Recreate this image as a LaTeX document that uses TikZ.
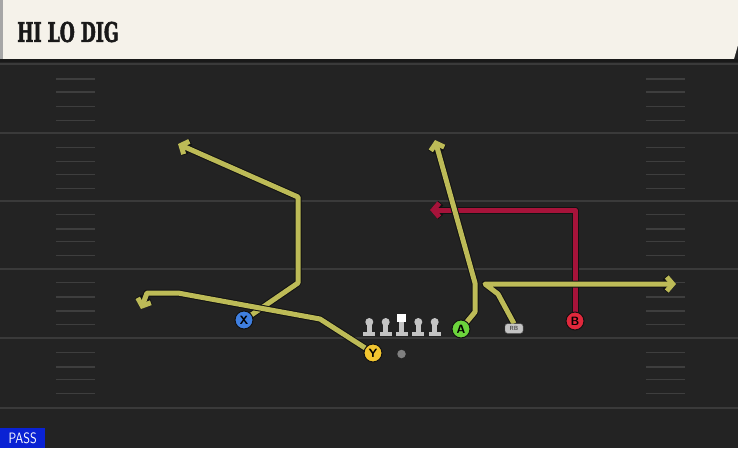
\documentclass[tikz,border=0pt]{standalone}
\usepackage{fontspec}
\newfontfamily\hdrfont{DejaVu Serif}[FakeBold=2.5]
\usetikzlibrary{arrows.meta}
\definecolor{field}{HTML}{232323}
\definecolor{yardc}{HTML}{3A3A3A}
\definecolor{hashc}{HTML}{3E3E3E}
\definecolor{cream}{HTML}{F5F2EA}
\definecolor{routey}{HTML}{BDBB57}
\definecolor{router}{HTML}{A6133A}
\definecolor{outl}{HTML}{121212}
\definecolor{px}{HTML}{3F7FE0}
\definecolor{py}{HTML}{F2C530}
\definecolor{pa}{HTML}{6CD43C}
\definecolor{pb}{HTML}{E0283C}
\definecolor{lmc}{HTML}{C4C4C4}
\definecolor{passblue}{HTML}{0A22D4}
\pgfdeclarelayer{bg}
\pgfsetlayers{bg,main}
\begin{document}
\begin{tikzpicture}[x=1pt,y=-1pt,
  yard/.style={draw=yardc,line width=1.8pt},
  hashm/.style={draw=hashc,line width=1.5pt},
  routeout/.style={draw=outl,line width=7pt,line join=round,-{Straight Barb[length=6pt,width=14pt]}},
  yroute/.style={draw=routey,line width=5pt,line join=round,-{Straight Barb[length=6pt,width=14pt]}},
  rroute/.style={draw=router,line width=5pt,line join=round,-{Straight Barb[length=6pt,width=14pt]}},
  player/.style={circle,minimum size=18pt,inner sep=0pt,draw=outl,line width=1pt,
    font=\sffamily\bfseries\fontsize{12}{12}\selectfont,text=black},
  lineman/.pic={
    \fill[lmc] (0,-14) circle (4);
    \fill[lmc] (-2.3,-14) rectangle (2.3,-4);
    \fill[lmc] (-6,-4) rectangle (6,0);
  },
  centerman/.pic={
    \fill[white] (-4.5,-22) rectangle (4.5,-14);
    \fill[lmc] (-2.3,-14) rectangle (2.3,-4);
    \fill[lmc] (-6,-4) rectangle (6,0);
  }]
\useasboundingbox (0,0) rectangle (738,448);
\begin{pgfonlayer}{bg}
\fill[field] (0,0) rectangle (738,448);
% header
\fill[cream] (0,0) -- (738,0) -- (738,45) -- (734,59) -- (0,59) -- cycle;
\fill[black!35] (0,0) rectangle (3,59);
\fill[black!90] (0,59) rectangle (738,62);
% yard lines
\foreach \yy in {64,133,201,269,338,408}
  \draw[yard] (0,\yy) -- (738,\yy);
% hash marks
\foreach \yy in {79,92,106.5,120.5,147.5,161.5,174.5,188.5,214.5,229,241.5,255.5,282.5,297,311,324.5,352.5,367,379.5,393.5}
  {\draw[hashm] (56,\yy) -- (95,\yy); \draw[hashm] (646,\yy) -- (685,\yy);}
\end{pgfonlayer}

\node[font=\hdrfont\bfseries\fontsize{27}{27}\selectfont,anchor=west,inner sep=0pt,text=black!90]
  (title) at (17,32) {\scalebox{0.64}[1]{HI LO DIG}};

% players
\node[player,fill=px] (X) at (244,320) {X};
\node[player,fill=py] (Y) at (373,353) {Y};
\node[player,fill=pa] (A) at (461,329) {A};
\node[player,fill=pb] (B) at (575,321) {B};
\node[draw=black!60,fill=lmc,rounded corners=2.5pt,minimum width=18pt,minimum height=9.5pt,inner sep=0pt,
  font=\sffamily\bfseries\fontsize{6}{6}\selectfont,text=black!70] (RB) at (514,328.5) {RB};
\node[circle,fill=black!50,minimum size=8.5pt,inner sep=0pt] (QB) at (401.5,354) {};

% line
\pic at (369.3,336) {lineman};
\pic at (385.7,336) {lineman};
\pic at (401.7,336) {centerman};
\pic at (418.3,336) {lineman};
\pic at (434.7,336) {lineman};

% route endpoints
\coordinate (x1) at (298,283);
\coordinate (x2) at (298,197);
\coordinate (x3) at (178,144);
\coordinate (y1) at (320,319);
\coordinate (y2) at (178,293);
\coordinate (y3) at (147,293);
\coordinate (y4) at (141,309);
\coordinate (a1) at (475,312);
\coordinate (a2) at (475,283);
\coordinate (a3) at (435,140);
\coordinate (b1) at (575,210);
\coordinate (b2) at (430,210);
\coordinate (r1) at (498,294);
\coordinate (r2) at (485,284);
\coordinate (r3) at (676,284);

\begin{pgfonlayer}{bg}
\draw[routeout] (B.center) -- (b1) -- (b2);
\draw[rroute] (B.center) -- (b1) -- (b2);
\draw[routeout] (X.center) -- (x1) -- (x2) -- (x3);
\draw[yroute] (X.center) -- (x1) -- (x2) -- (x3);
\draw[routeout] (Y.center) -- (y1) -- (y2) -- (y3) -- (y4);
\draw[yroute] (Y.center) -- (y1) -- (y2) -- (y3) -- (y4);
\draw[routeout] (A.center) -- (a1) -- (a2) -- (a3);
\draw[yroute] (A.center) -- (a1) -- (a2) -- (a3);
\draw[routeout] (RB.north) -- (r1) -- (r2) -- (r3);
\draw[yroute] (RB.north) -- (r1) -- (r2) -- (r3);
\end{pgfonlayer}

\node[fill=passblue,anchor=south west,minimum width=45pt,minimum height=20pt,inner sep=0pt,
  text=white,font=\sffamily\fontsize{15}{15}\selectfont] (pass) at (0,448) {\scalebox{0.82}[1]{PASS}};
\end{tikzpicture}
\end{document}
